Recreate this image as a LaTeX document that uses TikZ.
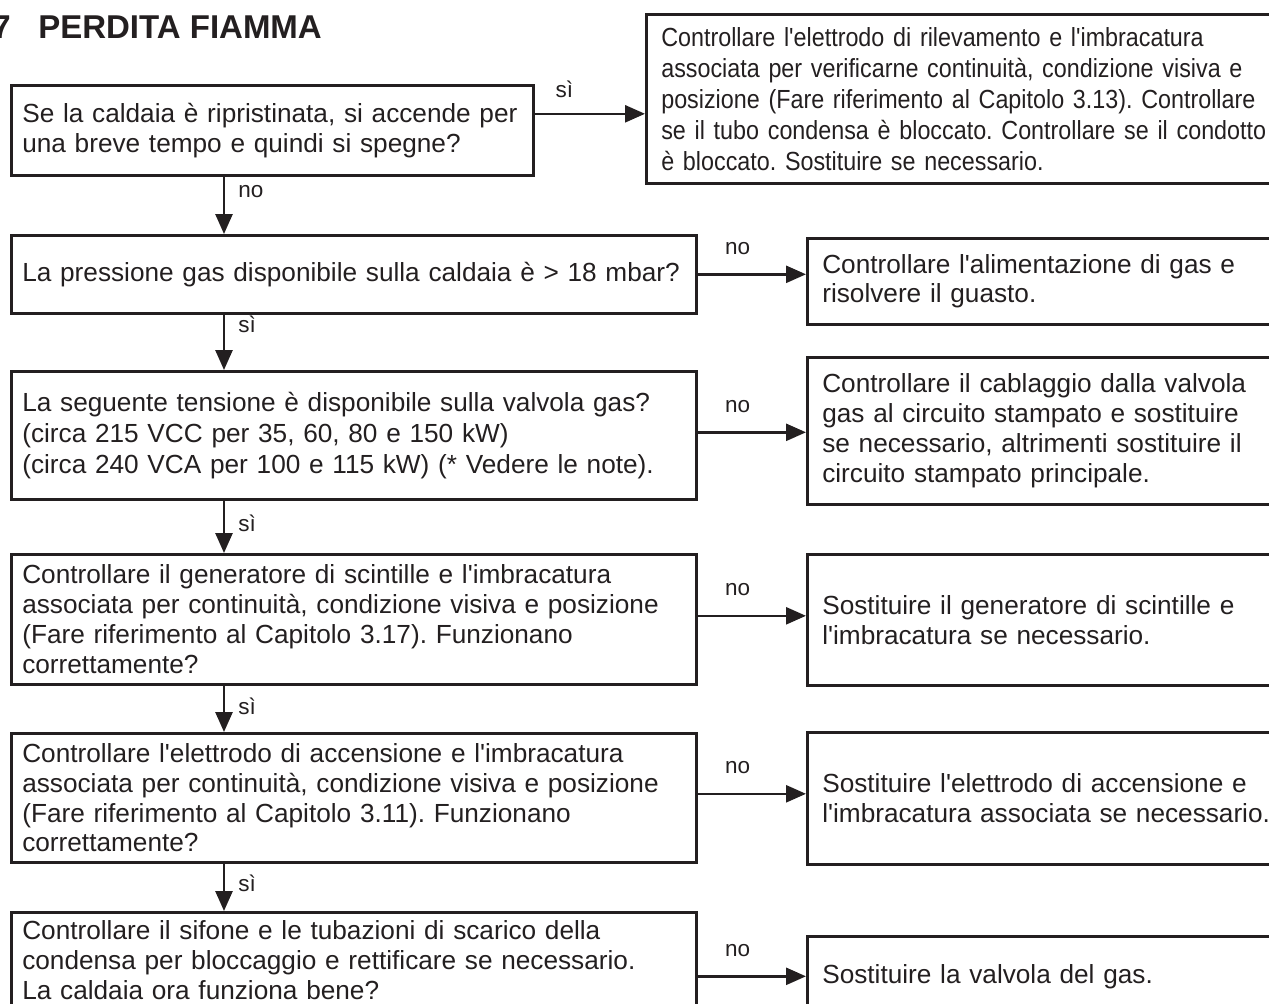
\documentclass[tikz,border=0pt]{standalone}
\usepackage{fontspec}
\setmainfont{Liberation Sans}[Ligatures=TeXOff]
\newfontfamily\narrowfont{Liberation Sans}[FakeStretch=0.89,Ligatures=TeXOff]
\usetikzlibrary{arrows.meta}
\definecolor{ink}{HTML}{231F20}
\newcommand{\bodyfont}{\fontsize{13.1}{14.9}\selectfont}
\frenchspacing

\begin{document}
\begin{tikzpicture}[x=0.5pt, y=-0.5pt, color=ink, line width=1.3pt, >={Triangle[length=10pt,width=8.5pt]},
    qbox/.style={draw, anchor=north west, align=left, inner xsep=5.5pt, inner ysep=0pt, font=\bodyfont},
    abox/.style={qbox, inner xsep=7.5pt},
    lab/.style={inner sep=0pt, font=\fontsize{11.25}{13}\selectfont}]
    \useasboundingbox (0,0) rectangle (1269,1003);
    % Title
    \node[anchor=base east, inner sep=0pt, font=\bfseries\fontsize{16.5}{20}\selectfont] (num) at (12,38) {7};
    \node[anchor=base west, inner sep=0pt, font=\bfseries\fontsize{16.5}{20}\selectfont] (title) at (37,38) {PERDITA FIAMMA};
    % Questions (left column)
    \node[qbox, text width=250pt, minimum height=45pt] (q1) at (10,84)
        {Se la caldaia è ripristinata, si accende per\\una breve tempo e quindi si spegne?};
    \node[qbox, text width=331.5pt, minimum height=39pt] (q2) at (10,234)
        {\mbox{La pressione gas disponibile sulla caldaia è > 18 mbar?}};
    \node[qbox, text width=331.5pt, minimum height=64pt, font=\fontsize{13.1}{15.5}\selectfont] (q3) at (10,370)
        {La seguente tensione è disponibile sulla valvola gas?\\(circa 215 VCC per 35, 60, 80 e 150 kW)\\(circa 240 VCA per 100 e 115 kW) (* Vedere le note).};
    \node[qbox, text width=331.5pt, minimum height=65pt] (q4) at (10,553)
        {Controllare il generatore di scintille e l'imbracatura\\associata per continuità, condizione visiva e posizione\\(Fare riferimento al Capitolo 3.17). Funzionano\\correttamente?};
    \node[qbox, text width=331.5pt, minimum height=64.5pt] (q5) at (10,732)
        {Controllare l'elettrodo di accensione e l'imbracatura\\associata per continuità, condizione visiva e posizione\\(Fare riferimento al Capitolo 3.11). Funzionano\\correttamente?};
    \node[qbox, text width=331.5pt, minimum height=48pt] (q6) at (10,911)
        {Controllare il sifone e le tubazioni di scarico della\\condensa per bloccaggio e rettificare se necessario.\\La caldaia ora funziona bene?};
    % Actions (right column)
    \node[abox, text width=315pt, minimum height=84.5pt, font=\narrowfont\fontsize{13.1}{15.5}\selectfont] (r1) at (645,13)
        {Controllare l'elettrodo di rilevamento e l'imbracatura\\associata per verificarne continuità, condizione visiva e\\posizione (Fare riferimento al Capitolo 3.13). Controllare\\se il tubo condensa è bloccato. Controllare se il condotto\\è bloccato. Sostituire se necessario.};
    \node[abox, text width=235pt, minimum height=43pt] (r2) at (806,237)
        {Controllare l'alimentazione di gas e\\risolvere il guasto.};
    \node[abox, text width=235pt, minimum height=73.5pt] (r3) at (806,356)
        {Controllare il cablaggio dalla valvola\\gas al circuito stampato e sostituire\\se necessario, altrimenti sostituire il\\circuito stampato principale.};
    \node[abox, text width=235pt, minimum height=65.5pt] (r4) at (806,553)
        {Sostituire il generatore di scintille e\\l'imbracatura se necessario.};
    \node[abox, text width=235pt, minimum height=66pt] (r5) at (806,731)
        {Sostituire l'elettrodo di accensione e\\l'imbracatura associata se necessario.};
    \node[abox, text width=235pt, minimum height=40pt] (r6) at (806,935)
        {Sostituire la valvola del gas.};
    % Down the left column
    \draw[->] ([xshift=107pt]q1.south west) -- ([xshift=107pt]q2.north west) node[lab, pos=0.36, anchor=base west, xshift=6.5pt] {no};
    \draw[->] ([xshift=107pt]q2.south west) -- ([xshift=107pt]q3.north west) node[lab, pos=0.33, anchor=base west, xshift=6.5pt] {sì};
    \draw[->] ([xshift=107pt]q3.south west) -- ([xshift=107pt]q4.north west) node[lab, pos=0.58, anchor=base west, xshift=6.5pt] {sì};
    \draw[->] ([xshift=107pt]q4.south west) -- ([xshift=107pt]q5.north west) node[lab, pos=0.62, anchor=base west, xshift=6.5pt] {sì};
    \draw[->] ([xshift=107pt]q5.south west) -- ([xshift=107pt]q6.north west) node[lab, pos=0.58, anchor=base west, xshift=6.5pt] {sì};
    % Across to the actions
    \draw[->] ([yshift=8.25pt]q1.east) -- ([yshift=8.25pt]q1.east -| r1.west) node[lab, pos=0.27, anchor=base, yshift=8pt] {sì};
    \draw[->] (q2.east) -- (q2.east -| r2.west) node[lab, pos=0.37, anchor=base, yshift=10pt] {no};
    \draw[->] ([yshift=1.5pt]q3.east) -- ([yshift=1.5pt]q3.east -| r3.west) node[lab, pos=0.37, anchor=base, yshift=10pt] {no};
    \draw[->] ([yshift=1.75pt]q4.east) -- ([yshift=1.75pt]q4.east -| r4.west) node[lab, pos=0.37, anchor=base, yshift=10pt] {no};
    \draw[->] ([yshift=2pt]q5.east) -- ([yshift=2pt]q5.east -| r5.west) node[lab, pos=0.37, anchor=base, yshift=10pt] {no};
    \draw[->] (r6.west -| q6.east) -- (r6.west) node[lab, pos=0.37, anchor=base, yshift=10pt] {no};
\end{tikzpicture}
\end{document}
